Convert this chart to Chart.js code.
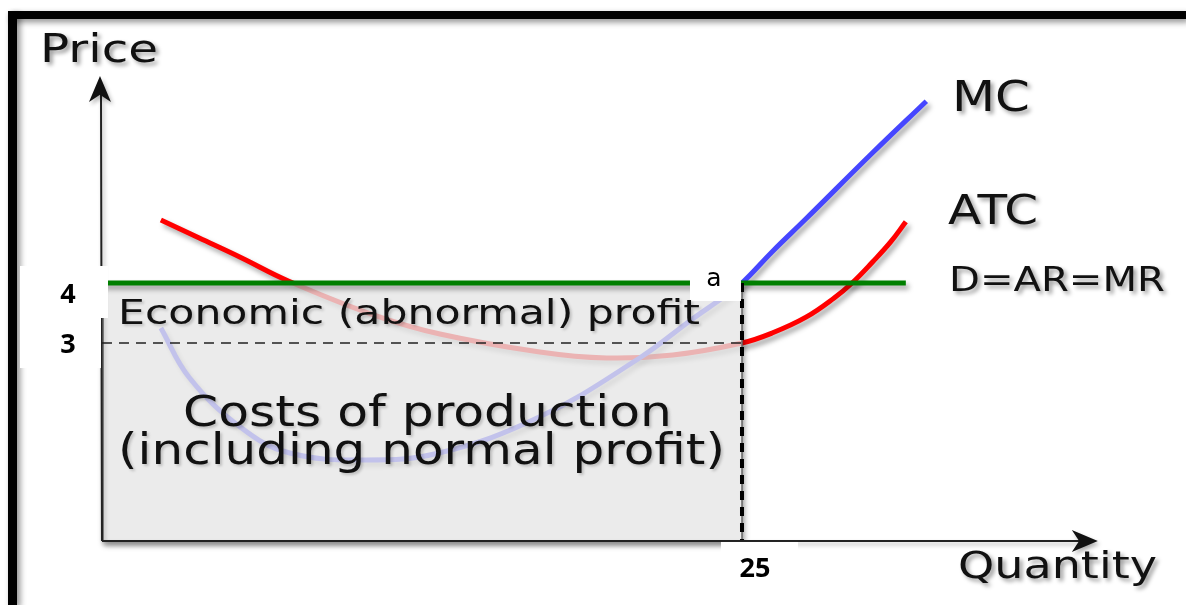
<!DOCTYPE html>
<html>
<head>
<meta charset="utf-8">
<script src="https://cdn.jsdelivr.net/npm/chart.js@4.4.0/dist/chart.umd.min.js"></script>
<style>
html, body { margin: 0; padding: 0; background: #fff; }
#wrap { width: 1186px; height: 605px; }
</style>
</head>
<body>
<div id="wrap"><canvas id="costChart" width="1186" height="605"></canvas></div>
<script>
// points (quantity, price)
var mcQty = [2.3, 3.4, 5.4, 7.3, 10.3, 13.2, 17.1, 21.0, 23.0, 24.3, 25, 26.2, 27.5, 30.1, 32.2];
var mcPrice = [3.25, 2.43, 1.6, 1.17, 1.05, 1.17, 1.77, 2.75, 3.38, 3.77, 4, 4.53, 5.07, 6.17, 7.03];
var atcQty = [2.3, 3.8, 5.4, 7.3, 10.6, 13.2, 17.1, 19.7, 22.3, 25, 26.2, 27.5, 28.6, 29.3, 30.1, 30.8, 31.4];
var atcPrice = [5.05, 4.75, 4.43, 4.03, 3.47, 3.15, 2.85, 2.75, 2.8, 3, 3.17, 3.43, 3.75, 4.0, 4.35, 4.68, 5.02];
var demandQty = [0, 31.4];
var marketPrice = 4;
var atcAtOutput = 3;
var outputQty = 25;
var yTickValues = [4, 3];
var yTickLabels = ['4', '3'];
var xTickValues = [25];
var xTickLabels = ['25'];

var axisFloor = -0.3;   // where the quantity axis sits
var axisTop = 7.45;     // tip of price arrow
var axisRight = 38.9;   // tip of quantity arrow

function toPts(xs, ys) {
    return xs.map(function (x, i) { return { x: x, y: ys[i] }; });
}

var mcData = toPts(mcQty, mcPrice);
var atcData = toPts(atcQty, atcPrice);
var demandData = demandQty.map(function (q) { return { x: q, y: marketPrice }; });
var atcDash = [{ x: 0, y: atcAtOutput }, { x: outputQty, y: atcAtOutput }];
var qtyDash = [{ x: outputQty, y: marketPrice }, { x: outputQty, y: axisFloor }];

function stretchText(ctx, text, left, baseline, size, width, weight, family) {
    ctx.font = (weight || 'normal') + ' ' + size + 'px ' + (family || '"DejaVu Sans"');
    var w = ctx.measureText(text).width;
    ctx.save();
    ctx.translate(left, baseline);
    ctx.scale(width / w, 1);
    ctx.fillText(text, 0, 0);
    ctx.restore();
}

function arrowHead(ctx, tipX, tipY, dirX, dirY) {
    var len = 26, half = 11;
    var bx = tipX - dirX * len, by = tipY - dirY * len;
    var nx = -dirY, ny = dirX;
    ctx.beginPath();
    ctx.moveTo(tipX, tipY);
    ctx.lineTo(bx + nx * half, by + ny * half);
    ctx.lineTo(tipX - dirX * len * 0.72, tipY - dirY * len * 0.72);
    ctx.lineTo(bx - nx * half, by - ny * half);
    ctx.closePath();
    ctx.fill();
}

var diagramPlugin = {
    id: 'diagram',
    beforeDatasetDraw: function (chart, args) {
        var ctx = chart.ctx;
        var x = chart.scales.x, y = chart.scales.y;
        var ds = chart.data.datasets[args.index];
        if (ds.label === 'D=AR=MR') {
            // shaded revenue box, drawn over the cost curves so they fade
            var l = x.getPixelForValue(0), r = x.getPixelForValue(outputQty);
            var t = y.getPixelForValue(marketPrice) + 1, b = y.getPixelForValue(axisFloor);
            ctx.save();
            ctx.beginPath();
            ctx.rect(0, 0, chart.width, chart.height);
            ctx.rect(l, t, r - l, b - t);
            ctx.clip('evenodd');
            ctx.shadowColor = 'rgba(0,0,0,0.45)';
            ctx.shadowBlur = 6;
            ctx.shadowOffsetX = 2;
            ctx.shadowOffsetY = 4;
            ctx.fillStyle = '#888';
            ctx.fillRect(l, t, r - l, b - t);
            ctx.restore();
            ctx.save();
            ctx.fillStyle = 'rgba(230,230,230,0.78)';
            ctx.fillRect(l, t, r - l, b - t);
            ctx.strokeStyle = '#666';
            ctx.lineWidth = 1.5;
            ctx.beginPath();
            ctx.moveTo(l + 1, t);
            ctx.lineTo(l + 1, b);
            ctx.lineTo(r, b);
            ctx.lineTo(r, t);
            ctx.stroke();
            ctx.restore();
        }
        ctx.save();
        if (ds.shadow) {
            ctx.shadowColor = 'rgba(0,0,0,0.35)';
            ctx.shadowBlur = 5;
            ctx.shadowOffsetX = 3;
            ctx.shadowOffsetY = 4;
        }
    },
    afterDatasetDraw: function (chart) {
        chart.ctx.restore();
    },
    afterDatasetsDraw: function (chart) {
        var ctx = chart.ctx;
        var x = chart.scales.x, y = chart.scales.y;
        var ox = x.getPixelForValue(0), oy = y.getPixelForValue(axisFloor);

        // frame
        ctx.save();
        ctx.shadowColor = 'rgba(0,0,0,0.45)';
        ctx.shadowBlur = 6;
        ctx.shadowOffsetX = 3;
        ctx.shadowOffsetY = 3;
        ctx.fillStyle = '#000';
        ctx.fillRect(8, 11, chart.width - 8, 8);
        ctx.fillRect(8, 11, 9, chart.height - 11);
        ctx.restore();

        // axes
        ctx.save();
        ctx.shadowColor = 'rgba(0,0,0,0.3)';
        ctx.shadowBlur = 4;
        ctx.shadowOffsetX = 2;
        ctx.shadowOffsetY = 3;
        ctx.strokeStyle = '#222';
        ctx.fillStyle = '#111';
        ctx.lineWidth = 2;
        var topY = y.getPixelForValue(axisTop);
        var rightX = x.getPixelForValue(axisRight);
        ctx.beginPath();
        ctx.moveTo(ox, oy);
        ctx.lineTo(ox - 1, topY + 12);
        ctx.moveTo(ox, oy);
        ctx.lineTo(rightX - 12, oy);
        ctx.stroke();
        arrowHead(ctx, ox - 2, topY, 0, -1);
        arrowHead(ctx, rightX, oy, 1, 0);
        ctx.restore();

        // white patches behind the pasted value labels
        ctx.save();
        ctx.fillStyle = '#fff';
        var p4 = y.getPixelForValue(yTickValues[0]);
        var p3 = y.getPixelForValue(yTickValues[1]);
        var q25 = x.getPixelForValue(xTickValues[0]);
        ctx.fillRect(20, p4 - 17, ox + 6 - 20, 52);
        ctx.fillRect(20, p4 + 35, ox - 1 - 20, 50);
        ctx.fillRect(q25 - 52, p4 - 18, 51, 36);
        ctx.fillRect(q25 - 21, oy + 1, 77, chart.height - oy - 1);
        ctx.restore();

        // value labels
        ctx.save();
        ctx.fillStyle = '#000';
        ctx.textAlign = 'center';
        ctx.textBaseline = 'middle';
        ctx.font = 'bold 27px "Open Sans"';
        ctx.fillText(yTickLabels[0], 68, p4 + 12);
        ctx.fillText(yTickLabels[1], 68, p3 + 2);
        ctx.fillText(xTickLabels[0], q25 + 13, oy + 28);
        ctx.font = '25px "DejaVu Sans"';
        ctx.fillText('a', q25 - 28, p4 - 4);
        ctx.restore();

        // diagram text
        ctx.save();
        ctx.fillStyle = '#111';
        ctx.shadowColor = 'rgba(0,0,0,0.4)';
        ctx.shadowBlur = 4;
        ctx.shadowOffsetX = 3;
        ctx.shadowOffsetY = 3;
        stretchText(ctx, 'Price', 40, 62, 39, 118);
        stretchText(ctx, 'MC', 952, 111, 42, 78);
        stretchText(ctx, 'ATC', 948, 224, 40, 90);
        stretchText(ctx, 'D=AR=MR', 949, 291, 33, 216);
        stretchText(ctx, 'Quantity', 958, 578, 38, 199);
        ctx.restore();

        ctx.save();
        ctx.fillStyle = '#111';
        ctx.shadowColor = 'rgba(0,0,0,0.2)';
        ctx.shadowBlur = 3;
        ctx.shadowOffsetX = 2;
        ctx.shadowOffsetY = 2;
        stretchText(ctx, 'Economic (abnormal) profit', 118, 324, 34, 582);
        stretchText(ctx, 'Costs of production', 183, 426, 42, 489);
        stretchText(ctx, '(including normal profit)', 118, 464, 42, 607);
        ctx.restore();
    }
};

var ctx = document.getElementById('costChart');

new Chart(ctx, {
    type: 'line',
    data: {
        datasets: [
            {
                label: 'dashQ',
                data: qtyDash,
                borderColor: '#000',
                borderWidth: 4,
                borderDash: [9, 7],
                order: 0
            },
            {
                label: 'dashATC',
                data: atcDash,
                borderColor: '#222',
                borderWidth: 1.5,
                borderDash: [10, 7],
                order: 1
            },
            {
                label: 'D=AR=MR',
                data: demandData,
                borderColor: '#007f00',
                borderWidth: 5,
                shadow: true,
                order: 2
            },
            {
                label: 'MC',
                data: mcData,
                borderColor: '#4646ff',
                borderWidth: 5,
                tension: 0.4,
                shadow: true,
                order: 3
            },
            {
                label: 'ATC',
                data: atcData,
                borderColor: '#ff0000',
                borderWidth: 5,
                tension: 0.4,
                shadow: true,
                order: 4
            }
        ]
    },
    options: {
        responsive: false,
        animation: false,
        events: [],
        layout: { padding: 0, autoPadding: false },
        elements: { point: { radius: 0 } },
        plugins: {
            legend: { display: false },
            tooltip: { enabled: false }
        },
        scales: {
            x: { type: 'linear', min: -3.984, max: 42.344, display: false },
            y: { type: 'linear', min: -1.367, max: 8.717, display: false }
        }
    },
    plugins: [diagramPlugin]
});
</script>
</body>
</html>
